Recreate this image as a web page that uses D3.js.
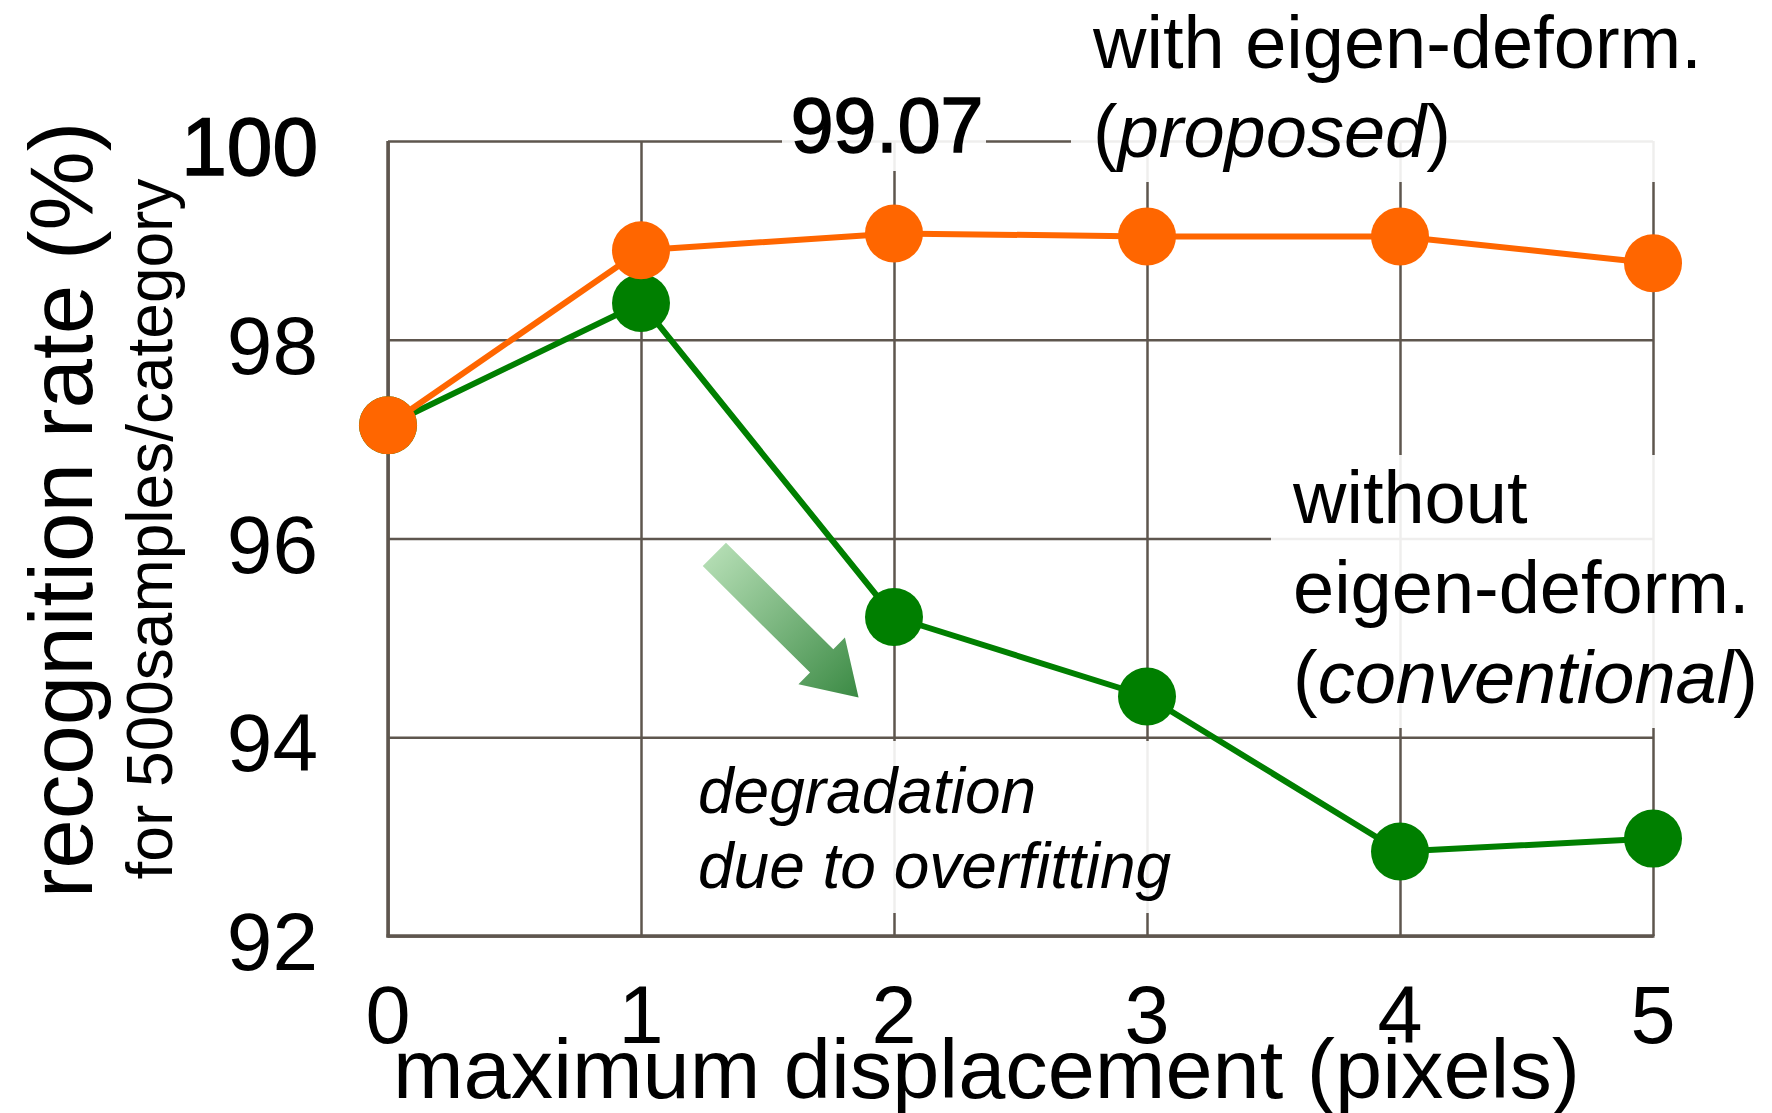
<!DOCTYPE html>
<html><head><meta charset="utf-8">
<script src="https://cdn.jsdelivr.net/npm/d3@7"></script>
<style>
html,body{margin:0;padding:0;background:#fff;}
svg{display:block;}
text{font-family:"Liberation Sans",Arial,Helvetica,sans-serif;fill:#000;}
</style>
</head><body>
<svg id="chart" width="1772" height="1113"></svg>
<script>
// ---- data ----
const displacement = [0, 1, 2, 3, 4, 5];
const xTickLabels = ["0", "1", "2", "3", "4", "5"];
const withEigen = [97.14, 98.90, 99.07, 99.04, 99.04, 98.77];      // proposed
const withoutEigen = [97.14, 98.37, 95.21, 94.41, 92.85, 92.98];   // conventional
const yTicks = [92, 94, 96, 98, 100];
const yTickLabels = ["92", "94", "96", "98", "100"];
const peakLabel = "99.07";
const xTitle = "maximum displacement (pixels)";
const yTitle = "recognition rate (%)";
const ySubTitle = "for 500samples/category";

// ---- layout ----
const svg = d3.select("#chart");
const L = 388, R = 1653, T = 141, B = 936;
const x = d3.scaleLinear().domain([0, 5]).range([L, R]);
const y = d3.scaleLinear().domain([92, 100]).range([B, T]);
const gridColor = "#5e564e";

// gridlines via axes
const gy = svg.append("g").attr("transform", `translate(${L},0)`)
  .call(d3.axisLeft(y).tickValues(yTicks).tickSize(-(R - L)).tickFormat(""));
gy.select(".domain").remove();
gy.selectAll("line").attr("stroke", gridColor).attr("stroke-width", 2.5);

const gx = svg.append("g").attr("transform", `translate(0,${B})`)
  .call(d3.axisBottom(x).tickValues(displacement).tickSize(-(B - T)).tickFormat(""));
gx.select(".domain").remove();
gx.selectAll("line").attr("stroke", gridColor).attr("stroke-width", 2.5);

// heavier left and bottom axis lines
svg.append("line").attr("x1", x(0)).attr("x2", x(0)).attr("y1", y(100)).attr("y2", y(92) + 1.5)
  .attr("stroke", gridColor).attr("stroke-width", 3.5);
svg.append("line").attr("x1", x(0) - 1.5).attr("x2", x(5) + 1.5).attr("y1", y(92)).attr("y2", y(92))
  .attr("stroke", gridColor).attr("stroke-width", 3.5);

// label backgrounds (semi-opaque white)
const boxes = [
  {x0: 782, y0: 70, x1: 986, y1: 171},
  {x0: 1071, y0: 0, x1: 1772, y1: 182},
  {x0: 1271, y0: 455, x1: 1772, y1: 728},
  {x0: 673, y0: 741, x1: 1192, y1: 913}
];
svg.append("g").selectAll("rect").data(boxes).join("rect")
  .attr("x", d => d.x0).attr("y", d => d.y0)
  .attr("width", d => d.x1 - d.x0).attr("height", d => d.y1 - d.y0)
  .attr("fill", "#fff").attr("fill-opacity", 0.9);

// gradient arrow (annotation in data units)
const arrowFrom = {x: 1.29, v: 95.84}, arrowTo = {x: 1.86, v: 94.40};
const ax0 = x(arrowFrom.x), ay0 = y(arrowFrom.v), ax1 = x(arrowTo.x), ay1 = y(arrowTo.v);
const defs = svg.append("defs");
const grad = defs.append("linearGradient").attr("id", "arrowGrad")
  .attr("gradientUnits", "userSpaceOnUse")
  .attr("x1", ax0).attr("y1", ay0).attr("x2", ax1).attr("y2", ay1);
grad.append("stop").attr("offset", "0%").attr("stop-color", "#b2dcb2");
grad.append("stop").attr("offset", "100%").attr("stop-color", "#3b8a44");
{
  const dx = ax1 - ax0, dy = ay1 - ay0, len = Math.hypot(dx, dy);
  const ux = dx / len, uy = dy / len, px = -uy, py = ux;
  const sw = 16.5, hw = 33, hl = 52;
  const bx = ax1 - ux * hl, by = ay1 - uy * hl;
  const pts = [
    [ax0 + px * sw, ay0 + py * sw],
    [bx + px * sw, by + py * sw],
    [bx + px * hw, by + py * hw],
    [ax1, ay1],
    [bx - px * hw, by - py * hw],
    [bx - px * sw, by - py * sw],
    [ax0 - px * sw, ay0 - py * sw]
  ];
  svg.append("polygon").attr("points", pts.map(p => p.join(",")).join(" "))
    .attr("fill", "url(#arrowGrad)");
}

// series
const series = [
  {name: "without", values: withoutEigen, color: "#007f00", width: 6},
  {name: "with", values: withEigen, color: "#ff6600", width: 6}
];
const line = d3.line().x((d, i) => x(displacement[i])).y(d => y(d));
series.forEach(s => {
  const g = svg.append("g");
  g.append("path").datum(s.values).attr("d", line)
    .attr("fill", "none").attr("stroke", s.color).attr("stroke-width", s.width)
    .attr("stroke-linejoin", "round");
  g.selectAll("circle").data(s.values).join("circle")
    .attr("cx", (d, i) => x(displacement[i])).attr("cy", d => y(d))
    .attr("r", 29).attr("fill", s.color);
});

// y tick labels
svg.append("g").selectAll("text").data(yTicks).join("text")
  .attr("x", 318).attr("y", d => y(d) + 34)
  .attr("text-anchor", "end").attr("font-size", 82)
  .attr("stroke", d => d === 100 ? "#000" : "none")
  .attr("stroke-width", d => d === 100 ? 1.6 : 0)
  .text((d, i) => yTickLabels[i]);

// x tick labels
svg.append("g").selectAll("text").data(displacement).join("text")
  .attr("x", d => x(d)).attr("y", 1043)
  .attr("text-anchor", "middle").attr("font-size", 81)
  .text((d, i) => xTickLabels[i]);

// axis titles
svg.append("text").attr("x", 393).attr("y", 1098).attr("font-size", 84)
  .attr("textLength", 1187).attr("lengthAdjust", "spacingAndGlyphs").text(xTitle);
svg.append("text").attr("transform", "translate(92,510) rotate(-90)")
  .attr("text-anchor", "middle").attr("font-size", 89).text(yTitle);
svg.append("text").attr("transform", "translate(172,529) rotate(-90)")
  .attr("text-anchor", "middle").attr("font-size", 64).text(ySubTitle);

// peak label
svg.append("text").attr("x", x(2) - 7).attr("y", 152).attr("text-anchor", "middle")
  .attr("font-size", 77).attr("stroke", "#000").attr("stroke-width", 1.6).text(peakLabel);

// series labels
const t1 = svg.append("text").attr("font-size", 74);
t1.append("tspan").attr("x", 1093).attr("y", 68).text("with eigen-deform.");
const t1b = t1.append("tspan").attr("x", 1093).attr("y", 157);
t1b.append("tspan").text("(");
t1b.append("tspan").attr("font-style", "italic").text("proposed");
t1b.append("tspan").text(")");

const t2 = svg.append("text").attr("font-size", 74);
t2.append("tspan").attr("x", 1293).attr("y", 523).text("without");
t2.append("tspan").attr("x", 1293).attr("y", 613).text("eigen-deform.");
const t2c = t2.append("tspan").attr("x", 1293).attr("y", 703);
t2c.append("tspan").text("(");
t2c.append("tspan").attr("font-style", "italic").text("conventional");
t2c.append("tspan").text(")");

const t3 = svg.append("text").attr("font-size", 64).attr("font-style", "italic");
t3.append("tspan").attr("x", 698).attr("y", 813).text("degradation");
t3.append("tspan").attr("x", 698).attr("y", 888).text("due to overfitting");
</script>
</body></html>
